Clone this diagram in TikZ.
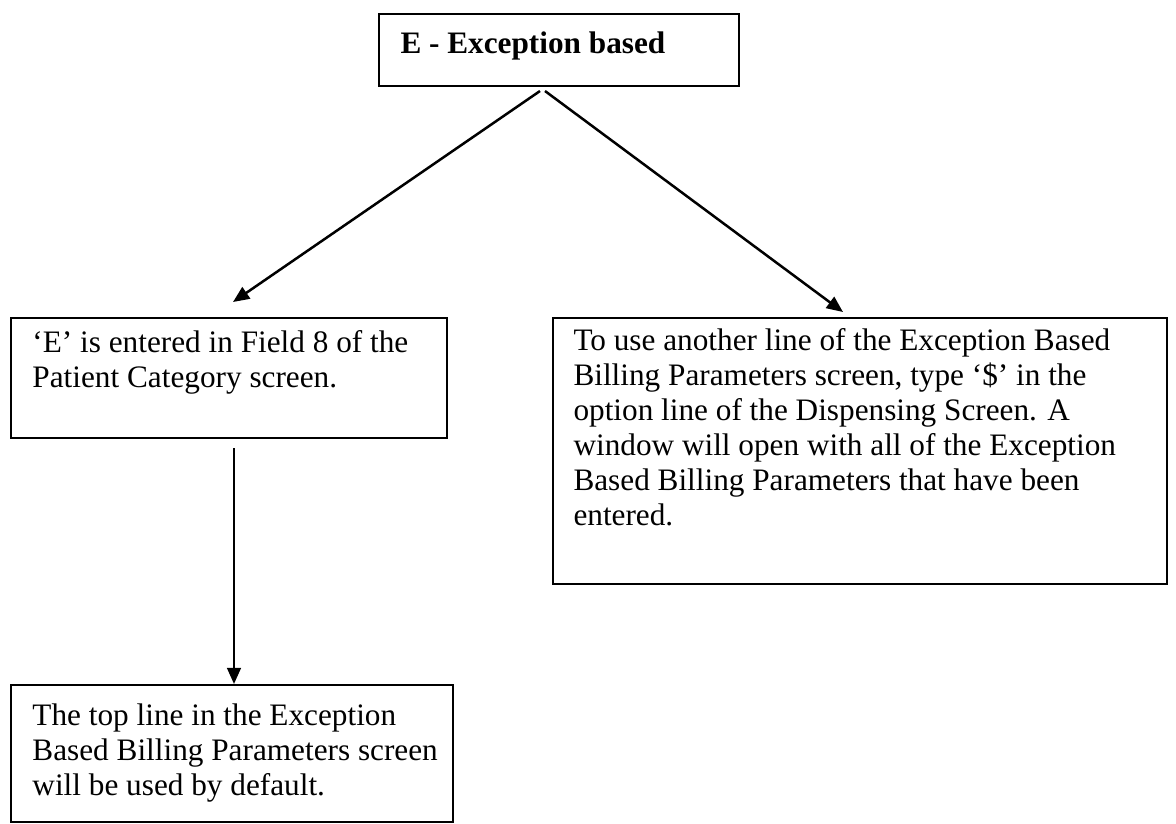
\documentclass[tikz,border=0pt]{standalone}
\usepackage{fontspec}
\setmainfont{Liberation Serif}
\usetikzlibrary{arrows.meta,calc}
\newcommand{\grv}{\symbol{"60}}
\begin{document}
\begin{tikzpicture}[x=0.4pt,y=-0.4pt,
  box/.style={draw,line width=0.8pt,inner sep=0pt,anchor=north west},
  txt/.style={anchor=base west,inner sep=0pt,align=left,
    font=\fontsize{12.5}{14}\selectfont},
  arr/.style={line width=1pt,-{Triangle[length=6.5pt,width=5.5pt]}}]
\useasboundingbox (0,0) rectangle (1176,823);
% boxes
\node[box,minimum width=144pt,minimum height=28.8pt] (top) at (378,13) {};
\node[box,minimum width=174.4pt,minimum height=48pt] (left) at (10,317) {};
\node[box,minimum width=245.6pt,minimum height=106.4pt] (right) at (552,317) {};
\node[box,minimum width=176.8pt,minimum height=54.8pt] (bottom) at (10,684) {};
% texts (each placed by the baseline of its last line)
\node[txt,font=\fontsize{12.5}{14}\selectfont\bfseries] (ttop) at (400,53) {E - Exception based};
\node[txt] (tleft) at (32,387) {\grv E' is entered in Field 8 of the\\Patient Category screen.};
\node[txt] (tright) at (573,525) {To use another line of the Exception Based\\
Billing Parameters screen, type \grv\$' in the\\
option line of the Dispensing Screen. A\\
window will open with all of the Exception\\
Based Billing Parameters that have been\\
entered.};
\node[txt] (tbottom) at (32,795) {The top line in the Exception\\Based Billing Parameters screen\\will be used by default.};
% connectors
\draw[arr] ($(top.south west)+(162,4)$) -- ($(left.north west)+(223,-15)$);
\draw[arr] ($(top.south west)+(167,4)$) -- ($(right.north west)+(291,-5)$);
\draw[arr] ($(left.south west)+(224,9)$) -- ($(bottom.north west)+(224,0)$);
\end{tikzpicture}
\end{document}
